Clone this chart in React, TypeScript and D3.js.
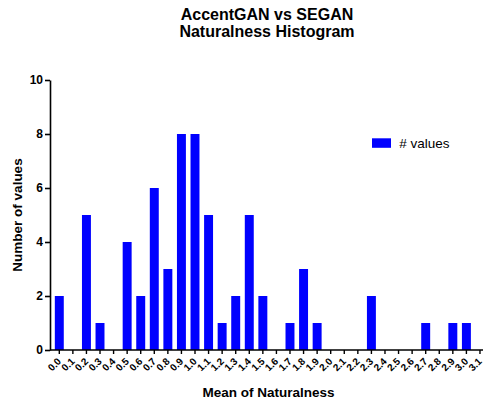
import React, { useEffect, useRef } from 'react';
import * as d3 from 'd3';

const categories = [
  '0.0', '0.1', '0.2', '0.3', '0.4', '0.5', '0.6', '0.7', '0.8', '0.9',
  '1.0', '1.1', '1.2', '1.3', '1.4', '1.5', '1.6', '1.7', '1.8', '1.9',
  '2.0', '2.1', '2.2', '2.3', '2.4', '2.5', '2.6', '2.7', '2.8', '2.9',
  '3.0', '3.1'
];
const counts = [
  2, 0, 5, 1, 0, 4, 2, 6, 3, 8,
  8, 5, 1, 2, 5, 2, 0, 1, 3, 1,
  0, 0, 0, 2, 0, 0, 0, 1, 0, 1,
  1, 0
];
const yTicks = [0, 2, 4, 6, 8, 10];
const seriesName = '# values';

export default function App() {
  const svgRef = useRef<SVGSVGElement>(null);

  const width = 484;
  const height = 398;

  useEffect(() => {
    const svg = d3.select(svgRef.current);
    svg.selectAll('*').remove();

    const font = '"Liberation Sans", Arial, sans-serif';
    const axisLeft = 50;
    const axisRight = 483;
    const top = 80;
    const bottom = 350;

    // bands are centered on the ticks
    const step = 13.57;
    const x = d3.scaleBand()
      .domain(categories)
      .range([59.3 - step / 2, 59.3 - step / 2 + step * categories.length])
      .paddingInner(0.34)
      .paddingOuter(0.17);

    const y = d3.scaleLinear().domain([0, 10]).range([bottom, top]);

    // title
    const title = svg.append('text')
      .attr('text-anchor', 'middle')
      .style('font-family', font)
      .style('font-weight', 'bold')
      .style('font-size', '16px')
      .attr('fill', '#000');
    title.append('tspan').attr('x', 267).attr('y', 19.5).text('AccentGAN vs SEGAN');
    title.append('tspan').attr('x', 267).attr('y', 36.5).text('Naturalness Histogram');

    // bars
    svg.append('g')
      .selectAll('rect')
      .data(counts)
      .enter()
      .append('rect')
      .attr('x', (d, i) => x(categories[i]) as number)
      .attr('y', d => y(d))
      .attr('width', x.bandwidth())
      .attr('height', d => bottom - y(d))
      .attr('fill', '#0000ff');

    // y axis
    const yAxisG = svg.append('g')
      .attr('transform', `translate(${axisLeft},0)`)
      .call(d3.axisLeft(y).tickValues(yTicks).tickSize(5).tickSizeOuter(0).tickPadding(2));
    yAxisG.select('.domain').attr('stroke', '#000').attr('stroke-width', 1.6);
    yAxisG.selectAll('.tick line').attr('stroke', '#000').attr('stroke-width', 1.6);
    yAxisG.selectAll('.tick text')
      .style('font-family', font)
      .style('font-weight', 'bold')
      .style('font-size', '12px')
      .attr('fill', '#000');

    // x axis
    const xAxisG = svg.append('g')
      .attr('transform', `translate(0,${bottom})`)
      .call(d3.axisBottom(x).tickSize(4).tickSizeOuter(0));
    xAxisG.select('.domain').remove();
    xAxisG.append('line')
      .attr('x1', axisLeft).attr('x2', axisRight)
      .attr('y1', 0).attr('y2', 0)
      .attr('stroke', '#000').attr('stroke-width', 1.6);
    xAxisG.selectAll('.tick line').attr('stroke', '#000').attr('stroke-width', 1.4);
    xAxisG.selectAll('.tick text')
      .style('font-family', font)
      .style('font-weight', 'bold')
      .style('font-size', '10px')
      .attr('fill', '#000')
      .attr('text-anchor', 'end')
      .attr('dy', null)
      .attr('y', 0)
      .attr('transform', 'translate(2.5,12) rotate(-45)');

    // axis titles
    svg.append('text')
      .attr('transform', `translate(21.5,215) rotate(-90)`)
      .attr('text-anchor', 'middle')
      .style('font-family', font)
      .style('font-weight', 'bold')
      .style('font-size', '13.5px')
      .text('Number of values');

    svg.append('text')
      .attr('x', 268.5)
      .attr('y', 396.5)
      .attr('text-anchor', 'middle')
      .style('font-family', font)
      .style('font-weight', 'bold')
      .style('font-size', '13.5px')
      .text('Mean of Naturalness');

    // legend
    const legend = svg.append('g').attr('transform', 'translate(372,138.3)');
    legend.append('rect')
      .attr('width', 19)
      .attr('height', 9.5)
      .attr('fill', '#0000ff');
    legend.append('text')
      .attr('x', 27.3)
      .attr('y', 10)
      .style('font-family', font)
      .style('font-size', '13.5px')
      .text(seriesName);
  }, []);

  return (
    <svg
      ref={svgRef}
      width={width}
      height={height}
      style={{ position: 'absolute', left: 0, top: 0, background: '#fff' }}
    />
  );
}
